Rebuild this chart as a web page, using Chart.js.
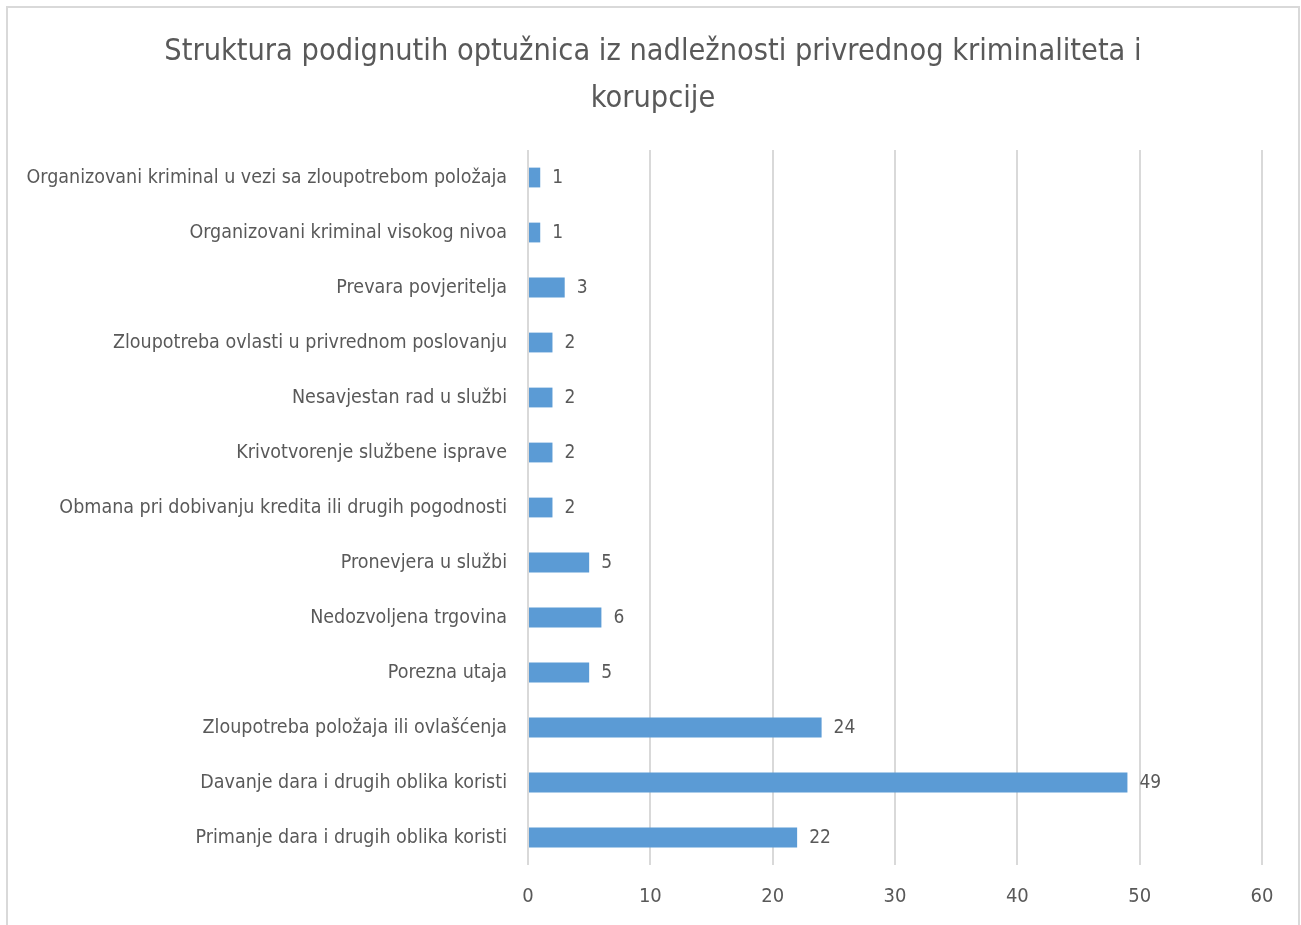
<!DOCTYPE html>
<html>
<head>
<meta charset="utf-8">
<script src="https://cdn.jsdelivr.net/npm/chart.js@4"></script>
<style>
  html, body { margin: 0; padding: 0; background: #fff; overflow: hidden; }
  #wrap { position: relative; width: 1301px; height: 925px; }
  #frame { position: absolute; left: 6px; top: 6px; width: 1290px; height: 940px; border: 2px solid #d9d9d9; }
  canvas { position: absolute; left: 0; top: 0; }
</style>
</head>
<body>
<div id="wrap">
  <div id="frame"></div>
  <canvas id="myChart" width="1301" height="925"></canvas>
</div>
<script>
const titleLines = [
    'Struktura podignutih optužnica iz nadležnosti privrednog kriminaliteta i',
    'korupcije'
];

const categories = [
    'Organizovani kriminal u vezi sa zloupotrebom položaja',
    'Organizovani kriminal visokog nivoa',
    'Prevara povjeritelja',
    'Zloupotreba ovlasti u privrednom poslovanju',
    'Nesavjestan rad u službi',
    'Krivotvorenje službene isprave',
    'Obmana pri dobivanju kredita ili drugih pogodnosti',
    'Pronevjera u službi',
    'Nedozvoljena trgovina',
    'Porezna utaja',
    'Zloupotreba položaja ili ovlašćenja',
    'Davanje dara i drugih oblika koristi',
    'Primanje dara i drugih oblika koristi'
];

const counts = [1, 1, 3, 2, 2, 2, 2, 5, 6, 5, 24, 49, 22];

const xTicks = [0, 10, 20, 30, 40, 50, 60];

const fontFamily = "'Liberation Sans Narrow', 'DejaVu Sans Condensed', sans-serif";
const textColor = '#595959';

// value labels at the end of each bar
const barValues = {
    id: 'barValues',
    afterDatasetsDraw(chart) {
        let ctx = chart.ctx;
        ctx.save();
        ctx.font = '19px ' + fontFamily;
        ctx.fillStyle = textColor;
        ctx.textAlign = 'left';
        ctx.textBaseline = 'middle';
        chart.getDatasetMeta(0).data.forEach((bar, i) => {
            ctx.fillText(String(counts[i]), bar.x + 12, bar.y + 1);
        });
        ctx.restore();
    }
};

// centre the title on the whole frame, not on the padded box
const titleCentre = {
    id: 'titleCentre',
    beforeDraw(chart) {
        let t = chart.titleBlock;
        if (t) {
            t.left = 44;
            t.width = t.right - t.left;
        }
    }
};

let ctx = document.getElementById('myChart').getContext('2d');
new Chart(ctx, {
    type: 'bar',
    data: {
        labels: categories,
        datasets: [{
            data: counts,
            backgroundColor: '#5b9bd5',
            categoryPercentage: 1,
            barPercentage: 0.36
        }]
    },
    options: {
        indexAxis: 'y',
        responsive: false,
        animation: false,
        layout: { padding: { left: 4, right: 39, top: 0, bottom: 0 } },
        plugins: {
            legend: { display: false },
            tooltip: { enabled: false },
            title: {
                display: true,
                text: titleLines,
                color: textColor,
                font: { family: fontFamily, size: 30.4, weight: 'normal', lineHeight: 1.53 },
                padding: { top: 29, bottom: 28 }
            }
        },
        scales: {
            x: {
                min: 0,
                max: 60,
                afterBuildTicks: scale => { scale.ticks = xTicks.map(v => ({ value: v })); },
                afterFit: scale => { scale.height = 60; },
                grid: { color: '#d9d9d9', lineWidth: 2, drawTicks: false },
                border: { display: false },
                ticks: {
                    color: textColor,
                    padding: 20,
                    font: { family: fontFamily, size: 20 }
                }
            },
            y: {
                afterFit: scale => { scale.width = 524; },
                grid: { display: false, drawTicks: false },
                border: { display: false },
                ticks: {
                    color: textColor,
                    padding: 21,
                    autoSkip: false,
                    font: { family: fontFamily, size: 19.5 }
                }
            }
        }
    },
    plugins: [barValues, titleCentre]
});
</script>
</body>
</html>
